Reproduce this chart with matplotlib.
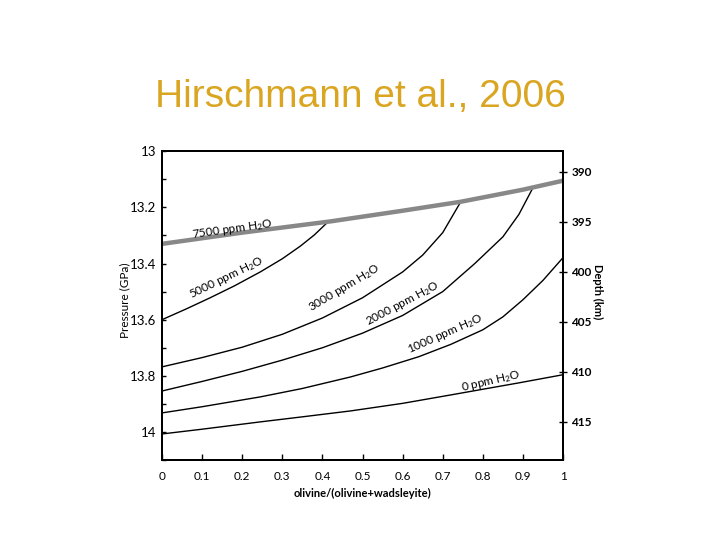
import matplotlib
matplotlib.use("Agg")
import matplotlib.pyplot as plt
from matplotlib.ticker import MultipleLocator, FixedLocator

# Data (x = olivine fraction, y = pressure in GPa)
x_7500 = [0.0, 0.2, 0.42, 0.6, 0.745, 0.9, 1.0]
p_7500 = [13.33, 13.29, 13.25, 13.212, 13.18, 13.137, 13.105]

x_5000 = [0.0, 0.06, 0.12, 0.18, 0.245, 0.3, 0.345, 0.38, 0.41]
p_5000 = [13.60, 13.562, 13.522, 13.48, 13.43, 13.383, 13.338, 13.298, 13.257]

x_3000 = [0.0, 0.1, 0.2, 0.3, 0.4, 0.5, 0.6, 0.65, 0.7, 0.745]
p_3000 = [13.768, 13.735, 13.698, 13.652, 13.594, 13.522, 13.43, 13.37, 13.29, 13.18]

x_2000 = [0.0, 0.1, 0.2, 0.3, 0.4, 0.5, 0.6, 0.7, 0.78, 0.85, 0.89, 0.925]
p_2000 = [13.854, 13.82, 13.784, 13.744, 13.70, 13.648, 13.585, 13.50, 13.40,
          13.305, 13.225, 13.13]

x_1000 = [0.0, 0.1, 0.245, 0.35, 0.47, 0.55, 0.64, 0.72, 0.8, 0.85, 0.9, 0.95, 1.0]
p_1000 = [13.932, 13.91, 13.875, 13.845, 13.804, 13.772, 13.732, 13.688,
          13.636, 13.59, 13.529, 13.46, 13.379]

x_0 = [0.0, 0.1, 0.245, 0.35, 0.47, 0.6, 0.72, 0.89, 1.0]
p_0 = [14.007, 13.99, 13.964, 13.946, 13.925, 13.898, 13.868, 13.825, 13.796]

x_ticks = [0, 0.1, 0.2, 0.3, 0.4, 0.5, 0.6, 0.7, 0.8, 0.9, 1]
x_ticklabels = ["0", "0.1", "0.2", "0.3", "0.4", "0.5", "0.6", "0.7", "0.8", "0.9", "1"]
p_ticks = [13, 13.2, 13.4, 13.6, 13.8, 14]
p_ticklabels = ["13", "13.2", "13.4", "13.6", "13.8", "14"]
depth_ticks = [390, 395, 400, 405, 410, 415]

# label text, x, pressure, rotation
curve_labels = [
    ("7500 ppm H$_2$O", 0.175, 13.279, 8),
    ("5000 ppm H$_2$O", 0.16, 13.45, 26),
    ("3000 ppm H$_2$O", 0.455, 13.486, 31),
    ("2000 ppm H$_2$O", 0.60, 13.543, 28),
    ("1000 ppm H$_2$O", 0.705, 13.65, 24),
    ("0 ppm H$_2$O", 0.82, 13.818, 13),
]

plt.rcParams["font.family"] = ["Lato", "DejaVu Sans"]
plt.rcParams["mathtext.default"] = "regular"

fig = plt.figure(figsize=(7.2, 5.4), dpi=100)
ax = fig.add_axes([0.225, 0.148, 0.557, 0.572])

for xs, ps in [(x_5000, p_5000), (x_3000, p_3000), (x_2000, p_2000),
               (x_1000, p_1000), (x_0, p_0)]:
    ax.plot(xs, ps, color="black", lw=1.0, solid_joinstyle="round")
ax.plot(x_7500, p_7500, color="#888888", lw=3.2, solid_capstyle="butt")

for txt, xx, pp, rot in curve_labels:
    ax.text(xx, pp, txt, rotation=rot, ha="center", va="center",
            fontsize=8.5, rotation_mode="anchor")

ax.set_xlim(0, 1)
ax.set_ylim(14.1, 13.0)
ax.set_xticks(x_ticks)
ax.set_xticklabels(x_ticklabels)
ax.set_yticks(p_ticks)
ax.set_yticklabels(p_ticklabels)
ax.yaxis.set_minor_locator(MultipleLocator(0.1))
ax.tick_params(axis="x", direction="in", length=4, width=1, labelsize=8.5, pad=8)
ax.tick_params(axis="y", which="both", direction="in", length=3, width=1,
               labelsize=9.5, pad=4)
ax.tick_params(top=False, right=False)
ax.set_ylabel("Pressure (GPa)", fontsize=8.5, va="center")
ax.yaxis.set_label_coords(-0.092, 0.518)
ax.set_xlabel("olivine/(olivine+wadsleyite)", fontsize=8, fontweight="bold",
              labelpad=4)
for sp in ax.spines.values():
    sp.set_linewidth(1.4)

# depth axis on the right
ax2 = ax.twinx()
ax2.set_ylim(418.83, 387.93)
ax2.yaxis.set_major_locator(FixedLocator(depth_ticks))
ax2.tick_params(axis="y", direction="inout", length=6, width=1, labelsize=8.5, pad=3)
for lab in ax2.get_yticklabels():
    lab.set_fontweight("bold")
ax2.set_ylabel("Depth (km)", fontsize=8, fontweight="bold", rotation=270,
               va="center")
ax2.yaxis.set_label_coords(1.085, 0.544)
for sp in ax2.spines.values():
    sp.set_linewidth(1.4)

fig.text(0.5, 0.82, "Hirschmann et al., 2006", ha="center", va="center",
         fontsize=28, color="#DAA520", family="Liberation Sans")

fig.savefig("out.png", dpi=100)
